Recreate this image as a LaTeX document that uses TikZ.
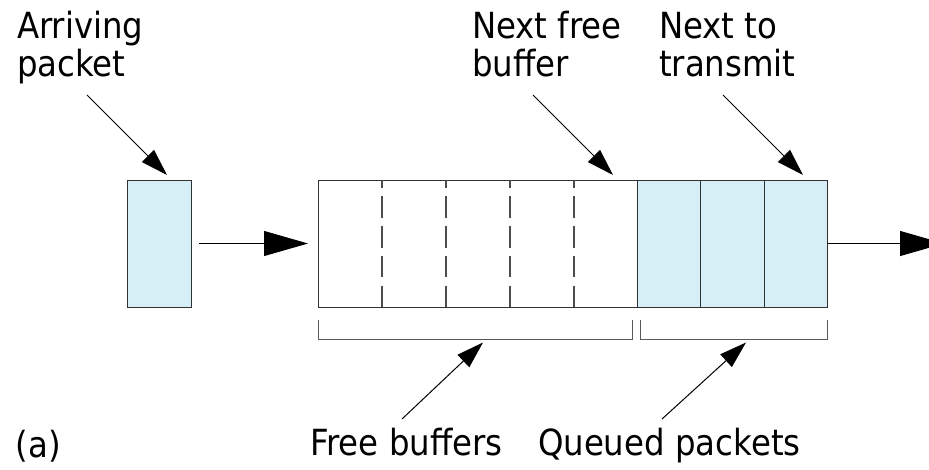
\documentclass[tikz,border=0pt]{standalone}
\usepackage{fontspec}
\setmainfont{DejaVu Sans}[FakeStretch=0.9]
\usetikzlibrary{arrows.meta}
\definecolor{pktblue}{RGB}{214,238,245}
\definecolor{edge}{RGB}{50,50,50}
\begin{document}
\begin{tikzpicture}[x=1pt,y=-1pt,
  lbl/.style={inner sep=0pt,outer sep=0pt,anchor=base west,align=left,
    font=\fontsize{36pt}{38pt}\selectfont},
  cellbox/.style={draw=edge,line width=1pt,minimum height=127pt,inner sep=0pt,outer sep=0pt},
  bluecell/.style={cellbox,fill=pktblue},
  divider/.style={draw=black!70,line width=1.1pt,dash pattern=on 21.5pt off 8.2pt},
  bracket/.style={draw=black!65,line width=1pt},
  bigarrow/.style={draw=black,line width=1pt,-{Triangle[length=44pt,width=25pt]}},
  smallarrow/.style={draw=black,line width=1pt,-{Triangle[length=27pt,width=17pt]}}
]
\useasboundingbox (0,0) rectangle (929,469);

% boxes
\node[bluecell,minimum width=64pt] (pkt) at (159,243.5) {};
\node[cellbox,minimum width=319pt] (free) at (477.5,243.5) {};
\node[bluecell,minimum width=63pt] (c1) at (668.5,243.5) {};
\node[bluecell,minimum width=64pt] (c2) at (732,243.5) {};
\node[bluecell,minimum width=63pt] (c3) at (795.5,243.5) {};

% dashed dividers in the free area
\foreach \xx in {382,446,510,574}
  \draw[divider] (\xx,307) -- (\xx,180);

% main arrows
\coordinate (outtip) at (944,243.5);
\draw[bigarrow,shorten <=8pt,shorten >=10pt] (pkt.east) -- (free.west);
\draw[bigarrow] (c3.east) -- (outtip);

% brackets
\coordinate (fb1) at (318,320); \coordinate (fb2) at (318,339);
\coordinate (fb3) at (632,339); \coordinate (fb4) at (632,320);
\coordinate (qb1) at (640,320); \coordinate (qb2) at (640,339);
\coordinate (qb3) at (827,339); \coordinate (qb4) at (827,320);
\draw[bracket] (fb1) -- (fb2) -- (fb3) -- (fb4);
\draw[bracket] (qb1) -- (qb2) -- (qb3) -- (qb4);

% labels
\node[lbl] (larr) at (17,76) {Arriving\\packet};
\node[lbl] (lnf) at (472,76) {Next free\\buffer};
\node[lbl] (lnt) at (659,76) {Next to\\transmit};
\node[lbl] (la) at (16,457) {(a)};
\node[lbl] (lfb) at (310,455) {Free buffers};
\node[lbl] (lqp) at (538,455) {Queued packets};

% label pointers
\coordinate (t1) at (87,95);   \coordinate (h1) at (167,175);
\coordinate (t2) at (533,95);  \coordinate (h2) at (613,175);
\coordinate (t3) at (723,95);  \coordinate (h3) at (803,175);
\coordinate (t4) at (402,419); \coordinate (h4) at (483,342.5);
\coordinate (t5) at (662,419); \coordinate (h5) at (746,342.5);
\draw[smallarrow] (t1) -- (h1);
\draw[smallarrow] (t2) -- (h2);
\draw[smallarrow] (t3) -- (h3);
\draw[smallarrow] (t4) -- (h4);
\draw[smallarrow] (t5) -- (h5);
\end{tikzpicture}
\end{document}
